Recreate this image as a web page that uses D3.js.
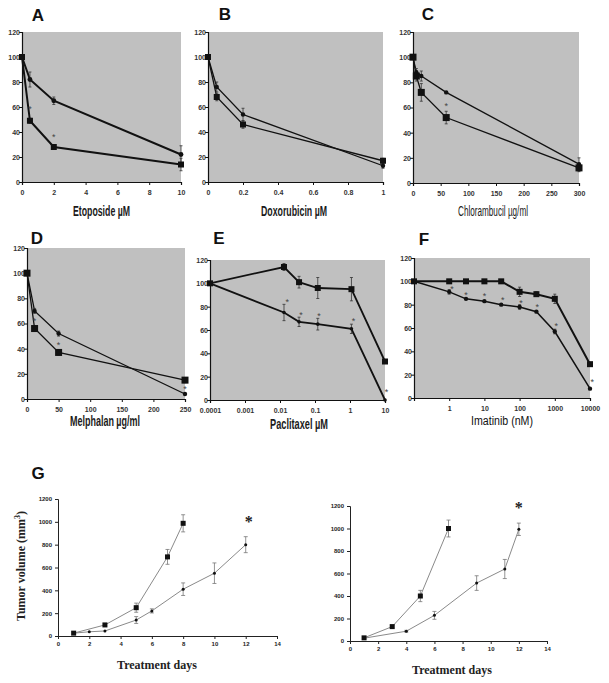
<!DOCTYPE html>
<html><head><meta charset="utf-8">
<script src="https://cdn.jsdelivr.net/npm/d3@7"></script>
<style>body{margin:0;background:#fff}</style>
</head><body><svg id="c" width="609" height="683"></svg>
<script>
// ---------- DATA ----------
const etoposideDose = [0, 0.5, 2, 10];
const etoposideSquare = [100, 49, 28, 14];
const etoposideSquareErr = [1, 2, 2, 5];
const etoposideCircle = [100, 82, 65, 22];
const etoposideCircleErr = [1, 6, 3, 7];
const etoposideStarX = [0.5, 2];
const etoposideStarY = [59, 37];
const etoposideTicks = [0, 2, 4, 6, 8, 10];

const doxorubicinDose = [0, 0.05, 0.2, 1];
const doxorubicinSquare = [100, 68, 46, 17];
const doxorubicinSquareErr = [1, 3, 3, 2];
const doxorubicinCircle = [100, 76, 54, 13];
const doxorubicinCircleErr = [1, 4, 5, 2];
const doxorubicinStarX = [];
const doxorubicinStarY = [];
const doxorubicinTicks = [0, 0.2, 0.4, 0.6, 0.8, 1];

const chlorambucilDose = [0, 6, 15, 60, 300];
const chlorambucilSquare = [100, 85, 72, 52, 12];
const chlorambucilSquareErr = [1, 4, 7, 5, 3];
const chlorambucilCircle = [100, 88, 85, 72, 15];
const chlorambucilCircleErr = [1, 3, 4, 1, 5];
const chlorambucilStarX = [60];
const chlorambucilStarY = [62];
const chlorambucilTicks = [0, 50, 100, 150, 200, 250, 300];

const melphalanDose = [0, 12, 50, 250];
const melphalanSquare = [100, 56, 37, 15];
const melphalanSquareErr = [1, 2, 2, 2];
const melphalanCircle = [100, 70, 52, 4];
const melphalanCircleErr = [1, 2, 2, 1];
const melphalanStarX = [12, 50, 250];
const melphalanStarY = [63, 44, 9];
const melphalanTicks = [0, 50, 100, 150, 200, 250];

const paclitaxelDose = [0.0001, 0.013, 0.035, 0.12, 1.1, 10];
const paclitaxelSquare = [100, 114, 101, 96, 95, 33];
const paclitaxelSquareErr = [1, 3, 5, 9, 10, 1];
const paclitaxelCircle = [100, 75, 67, 65, 61, 0];
const paclitaxelCircleErr = [1, 7, 4, 5, 4, 0];
const paclitaxelStarX = [0.016, 0.04, 0.13, 1.25, 11];
const paclitaxelStarY = [85, 74, 73, 69, 8];
const paclitaxelTicks = [0.0001, 0.001, 0.01, 0.1, 1, 10];
const paclitaxelTickLabels = ["0.0001", "0.001", "0.01", "0.1", "1", "10"];

const imatinibDose = [0.1, 1, 3, 10, 30, 100, 300, 1000, 10000];
const imatinibSquare = [100, 100, 100, 100, 100, 91, 89, 85, 29];
const imatinibSquareErr = [1, 1, 1, 1, 1, 4, 2, 4, 1];
const imatinibCircle = [100, 91, 85, 83, 80, 78, 74, 57, 8];
const imatinibCircleErr = [1, 2, 1, 1, 1, 2, 1, 2, 1];
const imatinibStarX = [1.2, 3, 10, 33, 110, 320, 1100, 11500];
const imatinibStarY = [94, 89, 88, 85, 82, 79, 63, 15];
const imatinibTicks = [0.1, 1, 10, 100, 1000, 10000];
const imatinibTickLabels = ["", "1", "10", "100", "1000", "10000"];

const viabilityTicks = [0, 20, 40, 60, 80, 100, 120];

const tumorDaysCtrlA = [1, 3, 5, 7, 8];
const tumorCtrlA = [25, 97, 248, 693, 987];
const tumorCtrlErrA = [5, 10, 40, 65, 75];
const tumorDaysTreatA = [1, 2, 3, 5, 6, 8, 10, 12];
const tumorTreatA = [25, 37, 44, 140, 220, 410, 550, 800];
const tumorTreatErrA = [3, 5, 5, 30, 18, 55, 90, 70];
const tumorStarA = [12.2, 1016];

const tumorDaysCtrlB = [1, 3, 5, 7];
const tumorCtrlB = [28, 128, 400, 1000];
const tumorCtrlErrB = [5, 10, 50, 75];
const tumorDaysTreatB = [1, 4, 6, 9, 11, 12];
const tumorTreatB = [25, 87, 228, 515, 640, 993];
const tumorTreatErrB = [3, 8, 35, 65, 85, 55];
const tumorStarB = [12, 1200];

const dayTicks = [0, 2, 4, 6, 8, 10, 12, 14];
const volumeTicks = [0, 200, 400, 600, 800, 1000, 1200];

// ---------- DRAW ----------
const svg = d3.select("#c");
const SANS = "Arial, 'Liberation Sans', sans-serif";
const SERIF = "'Times New Roman', 'Liberation Serif', serif";

function label(g, txt, x, y, len, opts = {}) {
  const t = g.append("text").attr("x", x).attr("y", y).text(txt)
    .attr("font-family", SANS).attr("font-size", opts.size || 14)
    .attr("font-weight", opts.weight || "bold").attr("fill", opts.fill || "#1a1a1a");
  if (len) t.attr("textLength", len).attr("lengthAdjust", "spacingAndGlyphs");
  return t;
}

function dosePanel(p) {
  const g = svg.append("g");
  const x = (p.log ? d3.scaleLog() : d3.scaleLinear()).domain(p.domain).range([p.x0, p.x1]);
  const y = d3.scaleLinear().domain([0, 120]).range([p.y1, p.y0]);
  g.append("rect").attr("x", p.x0).attr("y", p.y0).attr("width", p.x1 - p.x0).attr("height", p.y1 - p.y0)
    .attr("fill", "#c0c0c0");
  const ya = d3.axisLeft(y).tickValues(viabilityTicks).tickSize(3).tickPadding(-1);
  const ga = g.append("g").attr("transform", `translate(${p.x0},0)`).call(ya);
  const xa = d3.axisBottom(x).tickValues(p.ticks).tickSize(3).tickPadding(5)
    .tickFormat((d, i) => p.tickLabels ? p.tickLabels[i] : d3.format("")(d));
  const gb = g.append("g").attr("transform", `translate(0,${p.y1})`).call(xa);
  [ga, gb].forEach(a => {
    a.selectAll("path").attr("stroke", "#111").attr("stroke-width", 1.2);
    a.selectAll("line").attr("stroke", "#111");
    a.selectAll("text").attr("font-family", SANS).attr("font-size", 7).attr("font-weight", "bold").attr("fill", "#333");
  });
  ga.selectAll("text").attr("dy", "0.35em");
  const line = d3.line().x(d => x(d[0])).y(d => y(d[1]));
  const cData = p.dose.map((d, i) => [d, p.circle[i], p.circleErr[i]]);
  const sData = p.dose.map((d, i) => [d, p.square[i], p.squareErr[i]]);
  g.append("path").attr("d", line(cData)).attr("fill", "none").attr("stroke", "#111").attr("stroke-width", p.lwC);
  g.append("path").attr("d", line(sData)).attr("fill", "none").attr("stroke", "#111").attr("stroke-width", p.lwS);
  [...cData, ...sData].forEach(d => {
    if (d[2] <= 1) return;
    const xx = x(d[0]);
    g.append("line").attr("x1", xx).attr("x2", xx).attr("y1", y(d[1] - d[2])).attr("y2", y(d[1] + d[2]))
      .attr("stroke", "#333").attr("stroke-width", 0.8);
    [d[1] - d[2], d[1] + d[2]].forEach(v => g.append("line").attr("x1", xx - 1.5).attr("x2", xx + 1.5)
      .attr("y1", y(v)).attr("y2", y(v)).attr("stroke", "#333").attr("stroke-width", 0.8));
  });
  g.selectAll(null).data(cData).join("circle").attr("cx", d => x(d[0])).attr("cy", d => y(d[1]))
    .attr("r", p.cr).attr("fill", "#111");
  g.selectAll(null).data(sData).join("rect").attr("x", d => x(d[0]) - p.ss / 2).attr("y", d => y(d[1]) - p.ss / 2)
    .attr("width", p.ss).attr("height", p.ss).attr("fill", "#111");
  p.starX.forEach((sx, i) => g.append("text").attr("x", x(sx)).attr("y", y(p.starY[i]) + 4)
    .attr("text-anchor", "middle").attr("font-family", SANS).attr("font-size", 9).attr("fill", "#444").text("*"));
  g.append("text").attr("x", p.tx).attr("y", p.ty).attr("text-anchor", "middle").attr("font-family", SANS)
    .attr("font-size", 17).attr("font-weight", "bold").attr("fill", "#111").text(p.title);
  return g;
}

const gA = dosePanel({x0: 22, x1: 181, y0: 32, y1: 182, domain: [0, 10], ticks: etoposideTicks,
  dose: etoposideDose, square: etoposideSquare, squareErr: etoposideSquareErr, circle: etoposideCircle,
  circleErr: etoposideCircleErr, starX: etoposideStarX, starY: etoposideStarY,
  lwC: 2, lwS: 2, cr: 2.4, ss: 6, title: "A", tx: 38, ty: 21});
label(gA, "Etoposide µM", 73, 216, 57);

const gB = dosePanel({x0: 208, x1: 383, y0: 32, y1: 182, domain: [0, 1], ticks: doxorubicinTicks,
  dose: doxorubicinDose, square: doxorubicinSquare, squareErr: doxorubicinSquareErr, circle: doxorubicinCircle,
  circleErr: doxorubicinCircleErr, starX: doxorubicinStarX, starY: doxorubicinStarY,
  lwC: 1.3, lwS: 1.3, cr: 2.2, ss: 6, title: "B", tx: 225, ty: 20});
label(gB, "Doxorubicin µM", 261, 216, 66);

const gC = dosePanel({x0: 413, x1: 579, y0: 32, y1: 183, domain: [0, 300], ticks: chlorambucilTicks,
  dose: chlorambucilDose, square: chlorambucilSquare, squareErr: chlorambucilSquareErr, circle: chlorambucilCircle,
  circleErr: chlorambucilCircleErr, starX: chlorambucilStarX, starY: chlorambucilStarY,
  lwC: 1.3, lwS: 1.3, cr: 2.2, ss: 7, title: "C", tx: 428, ty: 20});
label(gC, "Chlorambucil µg/ml", 458, 216, 70, {weight: "normal"});

const gD = dosePanel({x0: 27, x1: 185, y0: 248, y1: 399, domain: [0, 250], ticks: melphalanTicks,
  dose: melphalanDose, square: melphalanSquare, squareErr: melphalanSquareErr, circle: melphalanCircle,
  circleErr: melphalanCircleErr, starX: melphalanStarX, starY: melphalanStarY,
  lwC: 1.3, lwS: 1.3, cr: 2.2, ss: 7, title: "D", tx: 37, ty: 244});
label(gD, "Melphalan µg/ml", 70, 426, 70);

const gE = dosePanel({x0: 210, x1: 385, y0: 260, y1: 400, log: true, domain: [0.0001, 10],
  ticks: paclitaxelTicks, tickLabels: paclitaxelTickLabels,
  dose: paclitaxelDose, square: paclitaxelSquare, squareErr: paclitaxelSquareErr, circle: paclitaxelCircle,
  circleErr: paclitaxelCircleErr, starX: paclitaxelStarX, starY: paclitaxelStarY,
  lwC: 1.8, lwS: 1.8, cr: 1.8, ss: 6, title: "E", tx: 219, ty: 244});
label(gE, "Paclitaxel µM", 270, 429, 58);

const gF = dosePanel({x0: 414, x1: 590, y0: 258, y1: 398, log: true, domain: [0.1, 10000],
  ticks: imatinibTicks, tickLabels: imatinibTickLabels,
  dose: imatinibDose, square: imatinibSquare, squareErr: imatinibSquareErr, circle: imatinibCircle,
  circleErr: imatinibCircleErr, starX: imatinibStarX, starY: imatinibStarY,
  lwC: 1.5, lwS: 2, cr: 2.2, ss: 6, title: "F", tx: 424, ty: 245});
label(gF, "Imatinib (nM)", 471, 425, 62, {weight: "normal", size: 12, fill: "#111"});

// ---------- TUMOR PANELS ----------
function tumorPanel(p) {
  const g = svg.append("g");
  const x = d3.scaleLinear().domain([0, 14]).range([p.x0, p.x1]);
  const y = d3.scaleLinear().domain([0, 1200]).range([p.y1, p.y0]);
  const ya = d3.axisLeft(y).tickValues(volumeTicks).tickSize(3).tickPadding(3).tickFormat(d3.format("d"));
  const xa = d3.axisBottom(x).tickValues(dayTicks).tickSize(3).tickPadding(3).tickFormat(d3.format("d"));
  const ga = g.append("g").attr("transform", `translate(${p.x0},0)`).call(ya);
  const gb = g.append("g").attr("transform", `translate(0,${p.y1})`).call(xa);
  [ga, gb].forEach(a => {
    a.selectAll("path").attr("stroke", "#222").attr("stroke-width", 1);
    a.selectAll("line").attr("stroke", "#222");
    a.selectAll("text").attr("font-family", SANS).attr("font-size", 6).attr("font-weight", "bold").attr("fill", "#222");
  });
  const line = d3.line().x(d => x(d[0])).y(d => y(d[1]));
  const cData = p.dC.map((d, i) => [d, p.vC[i], p.eC[i]]);
  const tData = p.dT.map((d, i) => [d, p.vT[i], p.eT[i]]);
  [cData, tData].forEach(dd => g.append("path").attr("d", line(dd)).attr("fill", "none")
    .attr("stroke", "#8a8a8a").attr("stroke-width", 1));
  [...cData, ...tData].forEach(d => {
    if (d[2] < 6) return;
    const xx = x(d[0]);
    g.append("line").attr("x1", xx).attr("x2", xx).attr("y1", y(d[1] - d[2])).attr("y2", y(d[1] + d[2]))
      .attr("stroke", "#777").attr("stroke-width", 0.8);
    [d[1] - d[2], d[1] + d[2]].forEach(v => g.append("line").attr("x1", xx - 2).attr("x2", xx + 2)
      .attr("y1", y(v)).attr("y2", y(v)).attr("stroke", "#777").attr("stroke-width", 0.8));
  });
  g.selectAll(null).data(tData).join("circle").attr("cx", d => x(d[0])).attr("cy", d => y(d[1]))
    .attr("r", 1.5).attr("fill", "#111");
  g.selectAll(null).data(cData).join("rect").attr("x", d => x(d[0]) - 2.5).attr("y", d => y(d[1]) - 2.5)
    .attr("width", 5).attr("height", 5).attr("fill", "#111");
  g.append("text").attr("x", x(p.star[0])).attr("y", y(p.star[1]) + 7).attr("text-anchor", "middle")
    .attr("font-family", SERIF).attr("font-size", 16).attr("font-weight", "bold").attr("fill", "#222").text("*");
  g.append("text").attr("x", p.lx).attr("y", p.ly).attr("text-anchor", "middle").attr("font-family", SERIF)
    .attr("font-size", 12).attr("font-weight", "bold").attr("fill", "#222").text("Treatment days");
  return g;
}

const gG1 = tumorPanel({x0: 58, x1: 277, y0: 499, y1: 636, dC: tumorDaysCtrlA, vC: tumorCtrlA, eC: tumorCtrlErrA,
  dT: tumorDaysTreatA, vT: tumorTreatA, eT: tumorTreatErrA, star: tumorStarA, lx: 157, ly: 669});
const gG2 = tumorPanel({x0: 350, x1: 547, y0: 506, y1: 641, dC: tumorDaysCtrlB, vC: tumorCtrlB, eC: tumorCtrlErrB,
  dT: tumorDaysTreatB, vT: tumorTreatB, eT: tumorTreatErrB, star: tumorStarB, lx: 452, ly: 674});

gG1.append("text").attr("x", 38).attr("y", 479).attr("text-anchor", "middle").attr("font-family", SANS)
  .attr("font-size", 17).attr("font-weight", "bold").attr("fill", "#111").text("G");
const yl = gG1.append("text").attr("transform", "translate(25,566) rotate(-90)").attr("text-anchor", "middle")
  .attr("font-family", SERIF).attr("font-size", 12).attr("font-weight", "bold").attr("fill", "#222");
yl.append("tspan").text("Tumor volume (mm");
yl.append("tspan").attr("dy", -5).attr("font-size", 8).text("3");
yl.append("tspan").attr("dy", 5).text(")");
</script></body></html>
